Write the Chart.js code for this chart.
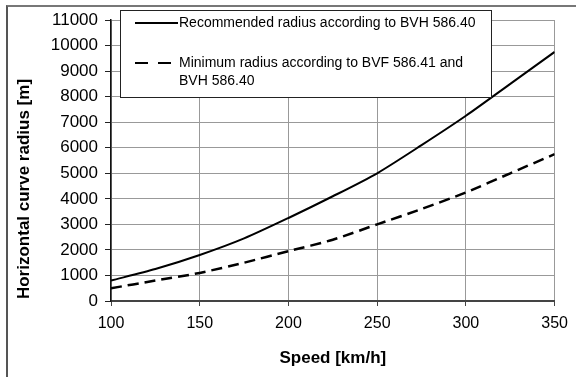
<!DOCTYPE html>
<html>
<head>
<meta charset="utf-8">
<script src="https://cdn.jsdelivr.net/npm/chart.js@4.4.1/dist/chart.umd.min.js"></script>
<style>
  html, body { margin: 0; padding: 0; background: #fff; }
  #wrap { position: relative; width: 576px; height: 377px; }
  #frame { position: absolute; left: 6px; top: 5px; width: 600px; height: 400px;
           border-top: 2px solid #777; border-left: 2px solid #555; }
  canvas { position: absolute; left: 0; top: 0; }
</style>
</head>
<body>
<div id="wrap">
  <div id="frame"></div>
  <canvas id="radiusChart" width="576" height="377"></canvas>
</div>
<script>
// speeds in km/h
const speeds = [100, 125, 150, 175, 200, 225, 250, 275, 300, 325, 350];
// recommended radius (BVH 586.40), m
const recommended = [800, 1250, 1800, 2450, 3250, 4100, 5000, 6100, 7250, 8500, 9750];
// minimum radius (BVF 586.41 and BVH 586.40), m
const minimum = [500, 800, 1100, 1500, 1950, 2400, 3000, 3600, 4250, 5000, 5750];

const legendLabels = [
    ['Recommended radius according to BVH 586.40'],
    ['Minimum radius according to BVF 586.41 and', 'BVH 586.40']
];
const yTitle = 'Horizontal curve radius [m]';
const xTitle = 'Speed [km/h]';

const FONT = '"Liberation Sans", Arial, sans-serif';

function toPoints(xs, ys) {
    return xs.map((x, i) => ({ x: x, y: ys[i] }));
}

// boxed legend and rotated y title, drawn like the excel original
const boxLegend = {
    id: 'boxLegend',
    afterDraw(chart) {
        const ctx = chart.ctx;
        ctx.save();
        // y axis title
        ctx.translate(24, 189);
        ctx.rotate(-Math.PI / 2);
        ctx.font = 'bold 17px ' + FONT;
        ctx.fillStyle = '#000';
        ctx.textAlign = 'center';
        ctx.textBaseline = 'middle';
        ctx.fillText(yTitle, 0, 0);
        ctx.restore();

        ctx.save();
        ctx.fillStyle = '#fff';
        ctx.fillRect(120.5, 10.5, 371, 87);
        ctx.strokeStyle = '#222';
        ctx.lineWidth = 1;
        ctx.strokeRect(120.5, 10.5, 371, 87);
        const rows = [23, 63];
        chart.data.datasets.forEach((ds, i) => {
            ctx.beginPath();
            ctx.strokeStyle = ds.borderColor;
            ctx.lineWidth = 2;
            ctx.setLineDash(i === 1 ? [13, 10] : []);
            ctx.moveTo(135, rows[i]);
            ctx.lineTo(178, rows[i]);
            ctx.stroke();
            ctx.setLineDash([]);
            ctx.font = '14px ' + FONT;
            ctx.fillStyle = '#000';
            ctx.textBaseline = 'middle';
            legendLabels[i].forEach((txt, j) => {
                ctx.fillText(txt, 179, rows[i] + j * 18);
            });
        });
        ctx.restore();
    }
};

const ctx = document.getElementById('radiusChart').getContext('2d');
new Chart(ctx, {
    type: 'line',
    data: {
        datasets: [{
            label: legendLabels[0].join(' '),
            data: toPoints(speeds, recommended),
            borderColor: '#000',
            borderWidth: 2,
            pointRadius: 0,
            tension: 0.25,
            fill: false
        }, {
            label: legendLabels[1].join(' '),
            data: toPoints(speeds, minimum),
            borderColor: '#000',
            borderWidth: 2.5,
            borderDash: [11, 6],
            pointRadius: 0,
            tension: 0.25,
            fill: false
        }]
    },
    options: {
        responsive: false,
        animation: false,
        layout: { padding: { top: 20, right: 21, left: 0, bottom: 0 } },
        plugins: {
            legend: { display: false },
            tooltip: { enabled: false }
        },
        scales: {
            x: {
                type: 'linear',
                min: 100,
                max: 350,
                ticks: {
                    stepSize: 50, color: '#000', padding: 8,
                    font: { family: FONT, size: 16 },
                    callback: v => String(v)
                },
                grid: { color: '#999', lineWidth: 1, tickLength: 5, tickColor: '#444' },
                border: { color: '#444', width: 2 },
                title: {
                    display: true,
                    text: xTitle,
                    color: '#000',
                    font: { family: FONT, size: 17, weight: 'bold' },
                    padding: { top: 4, bottom: 8 }
                },
                afterFit(scale) { scale.height = 76; }
            },
            y: {
                min: 0,
                max: 11000,
                ticks: {
                    stepSize: 1000, color: '#000', padding: 7,
                    font: { family: FONT, size: 17 },
                    callback: v => String(v)
                },
                grid: { color: '#999', lineWidth: 1, tickLength: 6, tickColor: '#222' },
                border: { color: '#111', width: 1.5 },
                afterFit(scale) { scale.width = 111; }
            }
        }
    },
    plugins: [boxLegend]
});
</script>
</body>
</html>
